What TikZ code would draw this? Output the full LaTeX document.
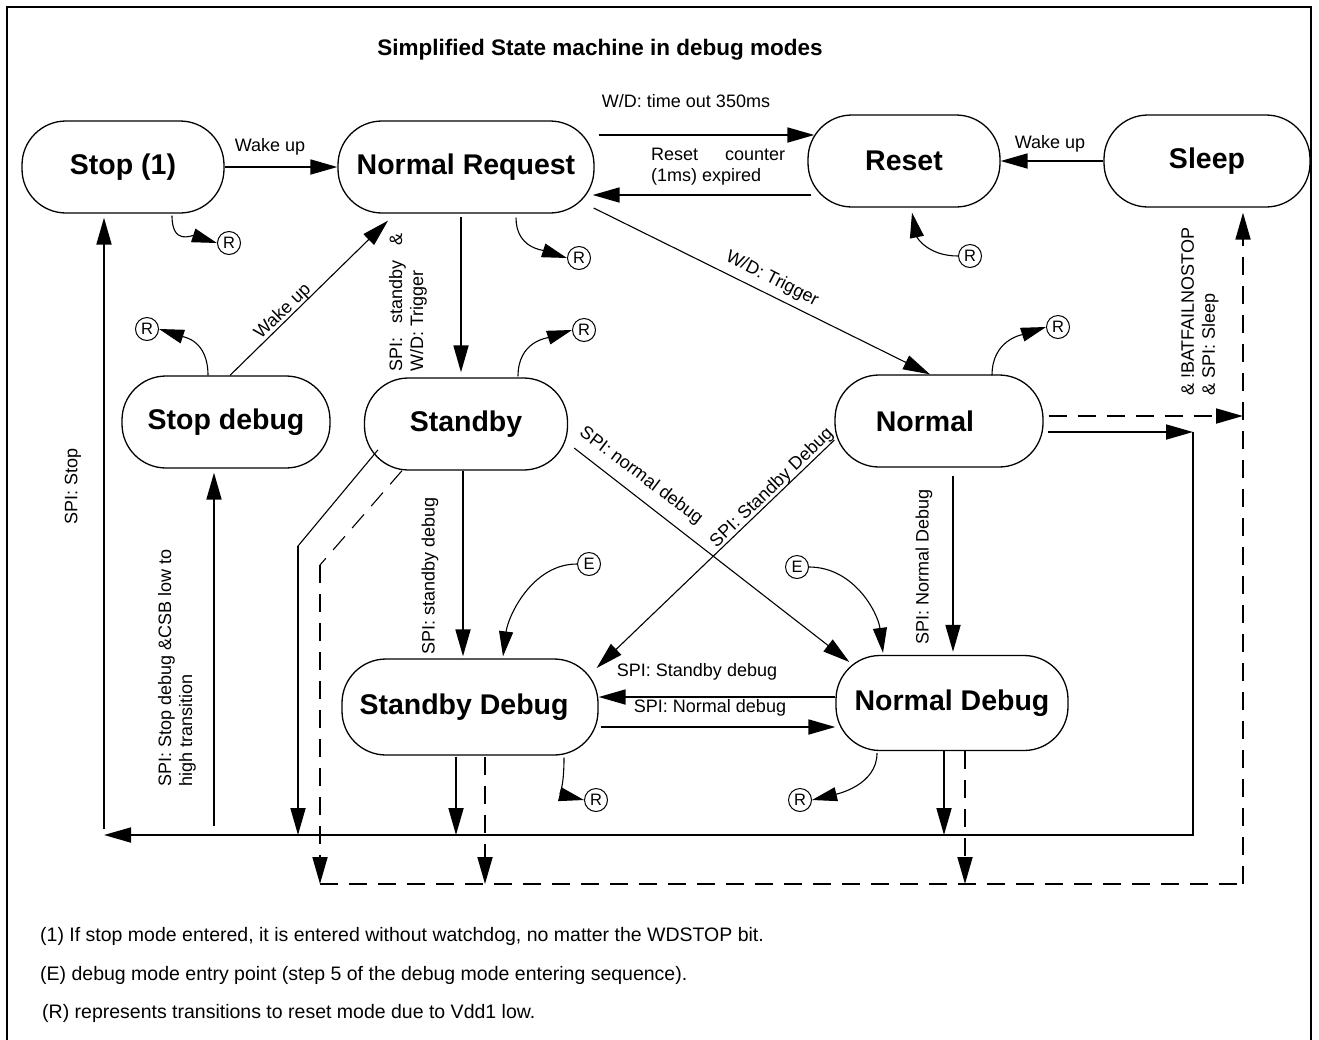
\documentclass[tikz,border=0pt]{standalone}
\usepackage{fontspec}
\setmainfont{Liberation Sans}
\usetikzlibrary{arrows.meta,calc}
\begin{document}
\begin{tikzpicture}[x=1pt,y=-1pt,
  stbox/.style={draw, line width=1.3pt, rounded corners=44pt, minimum height=92pt, inner sep=0pt, font=\fontsize{28.5}{30}\selectfont\bfseries},
  lbl/.style={font=\fontsize{18}{21}\selectfont, inner sep=0pt},
  fnote/.style={font=\fontsize{19.5}{22}\selectfont, inner sep=0pt, anchor=west},
  rc/.style={draw, circle, line width=1pt, minimum size=23pt, inner sep=0pt, font=\fontsize{16.5}{16.5}\selectfont},
  arrw/.style={-{Triangle[length=27pt,width=15pt]}},
  carrw/.style={-{Triangle[length=25pt,width=14pt]}},
  thk/.style={line width=1.8pt},
  thn/.style={line width=1.1pt},
  dsh/.style={line width=1.8pt, dash pattern=on 18pt off 11pt},
]
\useasboundingbox (0,0) rectangle (1319,1039);
\draw[line width=2pt] (7,1050) -- (7,7) -- (1311,7) -- (1311,1050);

\node[font=\fontsize{22.5}{24}\selectfont\bfseries] (title) at (600,50) {Simplified State machine in debug modes};

% states
\node[stbox, minimum width=202pt] (stop1) at (123,167) {Stop (1)};
\node[stbox, minimum width=256pt] (nreq) at (466,167) {Normal Request};
\node[stbox, minimum width=192pt] (reset) at (904,161) {Reset};
\node[stbox, minimum width=206pt] (sleep) at (1207,161) {Sleep};
\node[stbox, minimum width=208pt] (stopdbg) at (226,422) {Stop debug};
\node[stbox, minimum width=203pt] (stby) at (466,424) {Standby};
\node[stbox, minimum width=208pt] (normal) at (939,421) {Normal\kern28pt};
\node[stbox, minimum width=256pt, minimum height=96pt] (sbdbg) at (470,707) {Standby Debug\kern12pt};
\node[stbox, minimum width=232pt, minimum height=95pt] (nmdbg) at (952,703) {Normal Debug};

% top row
\draw[thk,arrw] (stop1.east) -- (nreq.west);
\node[lbl] (lwake1) at (270,147) {Wake up};
\draw[thk,arrw] ($(nreq.east)+(4,-32)$) -- ($(reset.west)+(7,-26)$);
\node[lbl] (lwd) at (686,101) {W/D: time out 350ms};
\draw[thk,arrw] ($(reset.west)+(4,34)$) -- ($(nreq.east)+(-2,28)$);
\node[lbl, anchor=base west] (lrc1) at (651,160) {\makebox[134pt][s]{Reset counter}};
\node[lbl, anchor=base west] (lrc2) at (651,181) {(1ms) expired};
\draw[thk,arrw] (sleep.west) -- (reset.east);
\node[lbl] (lwake2) at (1050,144) {Wake up};

% Normal Request -> Standby
\draw[thk,arrw] ($(nreq.south)+(-5,3)$) -- ($(stby.north)+(-5,-5)$);
\node[lbl, rotate=90, anchor=north west, align=left] (lsb) at (389,372) {\makebox[138pt][s]{SPI: standby \&}\\W/D: Trigger};

% Normal Request -> Normal
\draw[thn,arrw] ($(nreq.east)+(-1,41)$) -- ($(normal.north)+(-9,0)$);
\node[lbl, rotate=-27] (lwdt) at (772,279) {W/D: Trigger};

% Stop debug -> Normal Request
\draw[thn,arrw] ($(stopdbg.north)+(4,0)$) -- ($(nreq.south)+(-78,7)$);
\node[lbl, rotate=44] (lwake3) at (283,312) {Wake up};

% bus and SPI: Stop
\coordinate (busL) at (104,835);
\coordinate (busR) at (1193,835);
\coordinate (corR) at (1193,432);
\coordinate (stopfoot) at (104,829);
\draw[thk,arrw] (stopfoot) -- ($(stopfoot |- stop1.south)+(0,4)$);
\node[lbl, rotate=90] (lstop) at (73,486) {SPI: Stop};

\coordinate (sdfoot) at (214,826);
\draw[thk,arrw] (sdfoot) -- ($(sdfoot |- stopdbg.south)+(0,4)$);
\node[lbl, rotate=90, anchor=north west, align=left] (lsd) at (158,787) {SPI: Stop debug \&CSB low to\\high transition};

\draw[thk,arrw] ($(normal.east)+(4,11)$) -- (corR);
\draw[thk,arrw] (corR) -- (busR) -- (busL);

% Standby to bus (solid) and to dashed
\coordinate (sbk1) at (298,546);
\coordinate (sbk2) at (320,565);
\coordinate (dbl) at (320,884);
\coordinate (dbr) at (1243,884);
\draw[thn] ($(stby.west)+(14,26)$) -- (sbk1);
\draw[thk,arrw] (sbk1) -- (sbk1 |- busL);
\draw[thn, dash pattern=on 18pt off 11pt] ($(stby.south)+(-64,0)$) -- (sbk2);
\draw[dsh,arrw] (sbk2) -- (dbl);
\draw[dsh] (dbl) -- (dbr);
\draw[dsh,arrw] (dbr) -- ($(sleep.south)+(36,5)$);
\draw[dsh,arrw] ($(normal.east)+(5,-5)$) -- ($(normal.east -| dbr)+(0,-5)$);
\node[lbl, rotate=90, anchor=north west, align=left] (lsl) at (1181,396) {\& !BATFAILNOSTOP\\\& SPI: Sleep};

% debug states down
\path ($(sbdbg.south)+(-14,1)$) coordinate (sd1) ($(sbdbg.south)+(15,1)$) coordinate (sd2);
\path ($(nmdbg.south)+(-8,0)$) coordinate (nd1) ($(nmdbg.south)+(13,0)$) coordinate (nd2);
\draw[thk,arrw] (sd1) -- (sd1 |- busL);
\draw[dsh,arrw] (sd2) -- (sd2 |- dbl);
\draw[thk,arrw] (nd1) -- (nd1 |- busL);
\draw[dsh,arrw] (nd2) -- (nd2 |- dbl);

% diagonals
\draw[thn,arrw] ($(stby.east)+(6,24)$) -- ($(nmdbg.west)+(14,-41)$);
\node[lbl, rotate=-37] (lnd) at (641,476) {SPI: normal debug};
\draw[thn,arrw] ($(normal.west)+(0,19)$) -- ($(sbdbg.east)+(-2,-39)$);
\node[lbl, rotate=44] (lsbd) at (772,488) {SPI: Standby Debug};

% verticals
\draw[thk,arrw] ($(stby.south)+(-3,0)$) -- ($(sbdbg.north)+(-7,-2)$);
\node[lbl, rotate=90] (lsbdv) at (430,576) {SPI: standby debug};
\draw[thk,arrw] ($(normal.south)+(14,8)$) -- ($(nmdbg.north)+(1,-3)$);
\node[lbl, rotate=90] (lnmdv) at (924,567) {SPI: Normal Debug};

% horizontals between debug states
\draw[thk,arrw] ($(nmdbg.west)+(0,-6)$) -- ($(sbdbg.east)+(0,-10)$);
\node[lbl] (lsbh) at (697,672) {SPI: Standby debug};
\draw[thk,arrw] ($(sbdbg.east)+(2,20)$) -- ($(nmdbg.west)+(0,24)$);
\node[lbl] (lnmh) at (710,708) {SPI: Normal debug};

% R circles
\node[rc] (r1) at (229,243) {R};
\draw[thn,carrw] ($(stop1.south)+(49,2)$) .. controls +(0,30) and +(-25,-8) .. (r1.west);
\node[rc] (r2) at (579,258) {R};
\draw[thn,carrw] ($(nreq.south)+(50,4)$) .. controls +(0,30) and +(-25,-8) .. (r2.west);
\node[rc] (r3) at (970,256) {R};
\draw[thn,carrw] (r3.west) .. controls +(-30,0) and +(5,25) .. ($(reset.south)+(8,5)$);
\node[rc] (r4) at (147,329) {R};
\draw[thn,carrw] ($(stopdbg.north)+(-18,0)$) .. controls +(0,-35) and +(25,8) .. (r4.east);
\node[rc] (r5) at (584,330) {R};
\draw[thn,carrw] ($(stby.north)+(52,-1)$) .. controls +(0,-35) and +(-25,8) .. (r5.west);
\node[rc] (r6) at (1058,327) {R};
\draw[thn,carrw] ($(normal.north)+(53,1)$) .. controls +(0,-35) and +(-25,8) .. (r6.west);
\node[rc] (r7) at (596,800) {R};
\draw[thn,carrw] ($(sbdbg.south)+(94,2)$) .. controls +(0,32) and +(-25,-6) .. (r7.west);
\node[rc] (r8) at (800,800) {R};
\draw[thn,carrw] ($(nmdbg.south)+(-75,2)$) .. controls +(0,32) and +(25,-6) .. (r8.east);
\node[rc] (e1) at (589,564) {E};
\draw[thn,carrw] (e1.west) .. controls +(-45,0) and +(5,-40) .. ($(sbdbg.north)+(33,-2)$);
\node[rc] (e2) at (797,567) {E};
\draw[thn,carrw] (e2.east) .. controls +(45,0) and +(-5,-40) .. ($(nmdbg.north)+(-69,-2)$);

% footnotes
\node[fnote] (f1) at (40,936) {(1) If stop mode entered, it is entered without watchdog, no matter the WDSTOP bit.};
\node[fnote] (f2) at (40,975) {(E) debug mode entry point (step 5 of the debug mode entering sequence).};
\node[fnote] (f3) at (42,1013) {(R) represents transitions to reset mode due to Vdd1 low.};
\end{tikzpicture}
\end{document}
